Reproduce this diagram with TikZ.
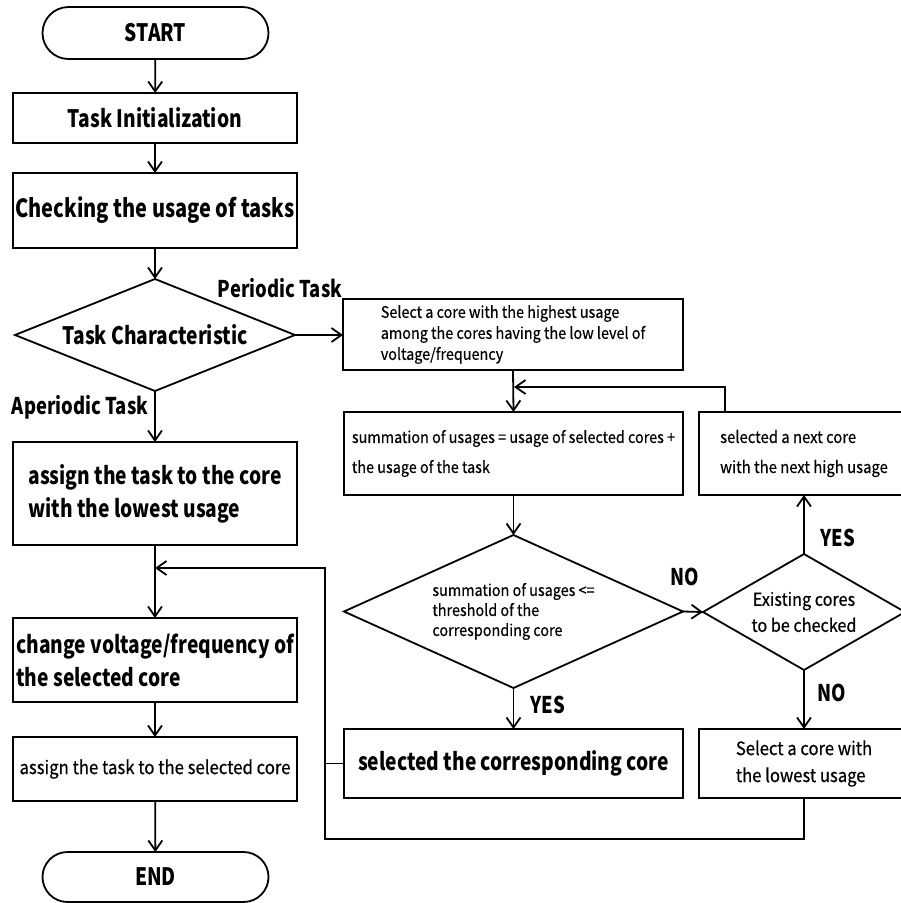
\documentclass[tikz,border=0pt]{standalone}
\usepackage{fontspec}
\setmainfont{Noto Sans CJK KR}[FakeStretch=0.9,FakeBold=0.4]
\newfontfamily\bfam{Noto Sans CJK KR}[FakeStretch=0.8]
\usetikzlibrary{shapes.geometric,shapes.misc,arrows.meta}
\begin{document}
\begin{tikzpicture}[x=1pt,y=-1pt,
  every node/.style={inner sep=0pt, outer sep=0pt},
  box/.style={draw, line width=1.8pt, rectangle, align=center},
  term/.style={draw, line width=1.8pt, rounded rectangle, minimum width=226pt, minimum height=52pt, font=\bfam\bfseries\fontsize{24}{28}\selectfont},
  dec/.style={draw, line width=1.8pt, diamond, aspect=2.2},
  big/.style={font=\bfam\bfseries\fontsize{24}{33}\selectfont},
  small/.style={font=\fontsize{16}{21}\selectfont},
  lbl/.style={font=\bfam\bfseries\fontsize{23}{28}\selectfont},
  flow/.style={line width=1.8pt, -{Straight Barb[length=10pt,width=14pt,line width=1.8pt]}},
  conn/.style={line width=1.8pt}
]
\useasboundingbox (0,0) rectangle (901,903);
% left column
\node[term] (start) at (155.5,33) {START};
\node[box,big,minimum width=284pt,minimum height=50pt] (init) at (155,118) {Task Initialization};
\node[box,font=\bfam\bfseries\fontsize{25}{30}\selectfont,minimum width=284pt,minimum height=75pt] (check) at (155,210.5) {Checking the usage of tasks};
\node[dec,big,minimum width=280pt,minimum height=112pt] (char) at (155,335) {Task Characteristic};
\node[lbl] (per) at (280,288) {Periodic Task};
\node[lbl] (aper) at (80,407) {Aperiodic Task};
\node[box,big,minimum width=284pt,minimum height=103pt,align=left] (assign1) at (155,493.5) {assign the task to the core\\with the lowest usage};
\coordinate (j1) at (155,568);
\node[box,big,minimum width=284pt,minimum height=84pt,align=left] (change) at (155,660) {change voltage/frequency of\\the selected core};
\node[box,font=\fontsize{18.6}{24}\selectfont,minimum width=284pt,minimum height=64pt] (assign2) at (155,769) {assign the task to the selected core};
\node[term,minimum height=50pt] (end) at (155.5,877) {END};
% middle column
\node[box,small,minimum width=340pt,minimum height=71pt,align=left] (select) at (513,334.5) {Select a core with the highest usage\\among the cores having the low level of\\voltage/frequency};
\node[box,font=\fontsize{16}{30}\selectfont,minimum width=339pt,minimum height=83pt,align=left] (summ) at (513.5,453.5) {summation of usages = usage of selected cores +\\the usage of the task};
\node[dec,font=\fontsize{16}{20}\selectfont,align=left,minimum width=339pt,minimum height=153pt] (d1) at (513.5,611.5) {summation of usages <=\\threshold of the\\corresponding core};
\node[box,big,minimum width=339pt,minimum height=69pt] (selcorr) at (513.5,763.5) {selected the corresponding core};
% right column
\node[box,font=\fontsize{16.5}{30}\selectfont,minimum width=210pt,minimum height=83pt,align=left] (next) at (804,453.5) {selected a next core\\with the next high usage};
\node[dec,font=\fontsize{18}{26}\selectfont,align=center,aspect=1.7,minimum width=202pt,minimum height=116pt] (d2) at (804,612) {Existing cores\\to be checked};
\node[box,font=\fontsize{18.5}{27}\selectfont,minimum width=210pt,minimum height=69pt,align=left] (lowest) at (804,763.5) {Select a core with\\the lowest usage};
% labels
\node[lbl] (no1) at (685,577) {NO};
\node[lbl] (yes2) at (838,538) {YES};
\node[lbl] (no2) at (832,693) {NO};
\node[lbl] (yes1) at (548,705) {YES};
% coordinates for loops
\coordinate (loopA) at (725,387);
\coordinate (loopB) at (514,387);
\coordinate (fbA) at (804,839);
\coordinate (fbB) at (325,839);
\coordinate (fbC) at (325,568);
\coordinate (fbD) at (325,763.5);
% connectors left
\draw[flow] (start) -- (init);
\draw[flow] (init) -- (check);
\draw[flow] (check) -- (char.north);
\draw[flow] (char.east) -- (select.west |- char.east);
\draw[flow] (char.south) -- (assign1.north);
\draw[conn] (assign1.south) -- (j1);
\draw[flow] (j1) -- (change.north);
\draw[flow] (change) -- (assign2);
\draw[flow] (assign2) -- (end);
% connectors middle/right
\draw[flow] (select.south) -- (summ.north);
\draw[flow] (summ.south) -- (d1.north);
\draw[flow] (d1.east) -- (d2.west);
\draw[flow] (d1.south) -- (selcorr.north);
\draw[flow] (d2.north) -- (next.south);
\draw[flow] (d2.south) -- (lowest.north);
\draw[flow] (next.north -| loopA) -- (loopA) -- (loopB);
\draw[flow] (lowest.south) -- (fbA) -- (fbB) -- (fbC) -- (j1);
\draw[conn] (selcorr.west) -- (fbD);
\end{tikzpicture}
\end{document}
